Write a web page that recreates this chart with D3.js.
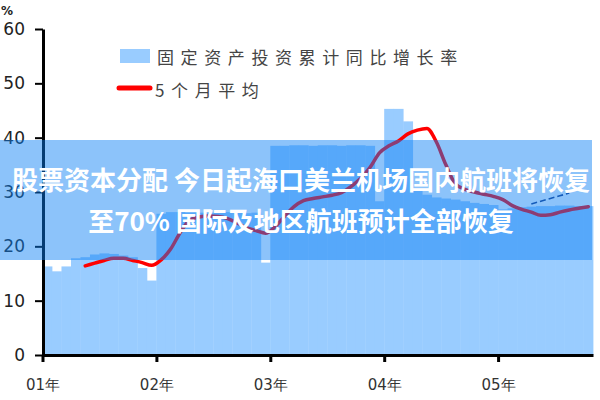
<!DOCTYPE html>
<html><head><meta charset="utf-8">
<script src="https://cdn.jsdelivr.net/npm/d3@7"></script>
<style>html,body{margin:0;padding:0;background:#fff;} svg{display:block;}</style>
</head><body>
<svg id="c" width="600" height="400"></svg>
<script>
// ---- data ----
const years = ["2001","2002","2003","2004","2005"];
const monthsPerYear = [12,12,12,12,10];
const yearTickLabels = ["01年","02年","03年","04年","05年"];
const yTicks = [0,10,20,30,40,50,60];
const seriesBarName = "固定资产投资累计同比增长率";
const seriesLineName = "5个月平均";
const bannerLines = ["股票资本分配 今日起海口美兰机场国内航班将恢复", "至70% 国际及地区航班预计全部恢复"];

const barValues = [
  16.3,15.4,16.3,17.8,18.0,18.5,18.7,18.6,18.3,18.0,16.0,13.7,
  26.0,26.3,26.3,26.2,26.2,26.1,26.2,26.3,26.2,26.1,26.2,17.0,
  38.5,38.5,38.6,38.6,38.5,38.6,38.6,38.5,38.6,38.6,38.5,28.3,
  45.3,45.3,43.0,30.5,29.5,29.0,28.8,28.6,28.3,28.0,27.8,27.6,
  26.8,27.0,27.2,27.3,27.4,27.4,27.5,27.5,27.4,27.4
];
const maStartIndex = 4;
const maValues = [
  16.4,16.9,17.4,17.8,17.8,17.4,17.0,16.5,
  17.5,19.5,22.5,24.8,25.4,25.6,25.5,25.1,24.3,23.4,22.9,22.4,
  23.6,25.5,27.3,28.4,28.8,29.1,29.4,29.9,31.0,32.5,34.5,37.2,
  38.5,39.4,40.7,41.4,41.7,39.2,35.0,31.5,30.5,30.0,29.6,29.2,
  28.6,27.5,26.8,26.3,25.7,25.8,26.3,26.7,27.0,27.3
];
const trendStartIndex = 51;
const trendValues = [27.8,28.3,28.8,29.3,29.8];

// categories
const categories = [];
years.forEach((y,i)=>{ for(let m=1;m<=monthsPerYear[i];m++) categories.push(y+"-"+String(m).padStart(2,"0")); });
const yearStartIdx = [];
{ let acc=0; monthsPerYear.forEach(n=>{ yearStartIdx.push(acc); acc+=n; }); }

const svg = d3.select("#c");
const x = d3.scaleLinear().domain([0, categories.length]).range([42.5, 593]);
const y = d3.scaleLinear().domain([0, 60]).range([355, 29]);

// bars
svg.append("g").selectAll("rect").data(barValues).join("rect")
  .attr("x",(d,i)=>x(i)).attr("width",(d,i)=>x(i+1)-x(i)+0.4)
  .attr("y",d=>y(d)).attr("height",d=>y(0)-y(d))
  .attr("fill","#99ccff");

// MA line
const maData = maValues.map((v,i)=>({i:i+maStartIndex+0.5, v}));
svg.append("path").datum(maData)
  .attr("d", d3.line().x(d=>x(d.i)).y(d=>y(d.v)).curve(d3.curveMonotoneX))
  .attr("fill","none").attr("stroke","#ff0000").attr("stroke-width",3.5)
  .attr("stroke-linecap","round").attr("stroke-linejoin","round");

// small trend segment
const trData = trendValues.map((v,i)=>({i:i+trendStartIndex+0.5, v}));
svg.append("path").datum(trData)
  .attr("d", d3.line().x(d=>x(d.i)).y(d=>y(d.v)))
  .attr("fill","none").attr("stroke","#1d3c86").attr("stroke-width",1.6)
  .attr("stroke-dasharray","6,3");

// axes
const yAxis = svg.append("g").attr("transform","translate(43,0)")
  .call(d3.axisLeft(y).tickValues(yTicks).tickSize(8).tickSizeOuter(0).tickPadding(10).tickFormat(d3.format("d")));
yAxis.select(".domain").attr("stroke","#000").attr("stroke-width",3);
yAxis.selectAll(".tick line").attr("stroke","#000").attr("stroke-width",2);
yAxis.selectAll(".tick text").attr("font-family","DejaVu Sans").attr("font-size",17).attr("fill","#222");

const xAxis = svg.append("g").attr("transform","translate(0,355)")
  .call(d3.axisBottom(x).tickValues(yearStartIdx).tickSize(7).tickSizeOuter(0).tickPadding(17)
        .tickFormat((d,i)=>yearTickLabels[i]));
xAxis.select(".domain").attr("stroke","#000").attr("stroke-width",3);
xAxis.selectAll(".tick line").attr("stroke","#000").attr("stroke-width",3);
xAxis.selectAll(".tick text").attr("font-family","DejaVu Sans").attr("font-size",15).attr("fill","#333");

svg.append("text").attr("x",1).attr("y",15).text("%")
  .attr("font-family","DejaVu Sans").attr("font-size",12).attr("font-weight","bold").attr("fill","#222");

// legend
svg.append("rect").attr("x",120).attr("y",49).attr("width",30).attr("height",14).attr("fill","#99ccff");
svg.append("text").attr("x",157).attr("y",63.5).text(seriesBarName)
  .attr("font-family","Noto Sans CJK SC").attr("font-size",17).attr("letter-spacing",6.6).attr("fill","#444");
svg.append("line").attr("x1",119).attr("x2",150).attr("y1",88).attr("y2",88)
  .attr("stroke","#ff0000").attr("stroke-width",5).attr("stroke-linecap","round");
svg.append("text").attr("x",155).attr("y",96.5).text(seriesLineName)
  .attr("font-family","Noto Sans CJK SC").attr("font-size",17).attr("letter-spacing",6.6).attr("fill","#444");

// banner overlay
svg.append("rect").attr("x",0).attr("y",140).attr("width",592).attr("height",120)
  .attr("fill","rgb(10,128,245)").attr("fill-opacity",0.47);
svg.append("g").selectAll("text").data(bannerLines).join("text")
  .attr("x",301).attr("y",(d,i)=>190+i*41).attr("text-anchor","middle")
  .attr("font-family","Noto Sans CJK SC").attr("font-weight","bold").attr("font-size",26)
  .attr("fill","#fff").text(d=>d);
</script>
</body></html>
